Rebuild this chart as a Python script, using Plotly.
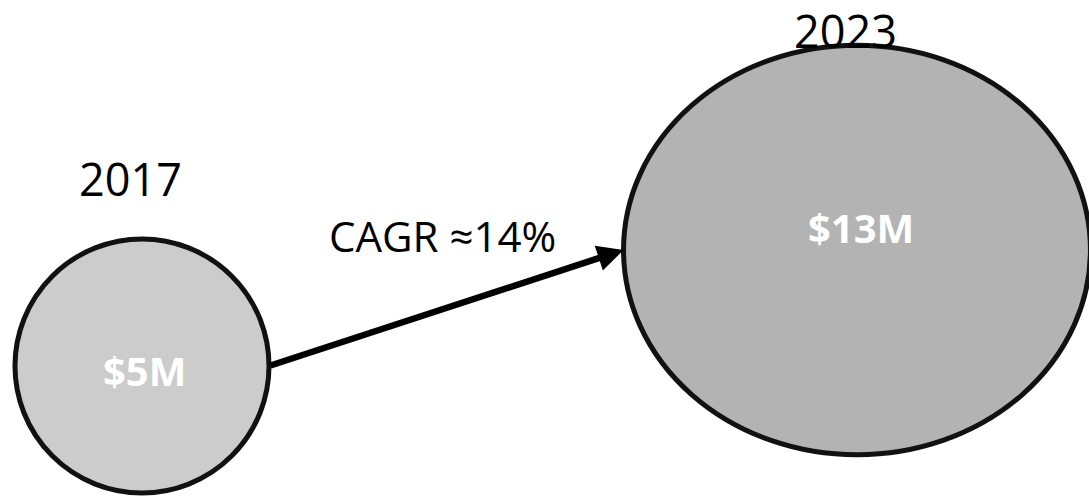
import math
import plotly.graph_objects as go

# Revenue data
years = ["2017", "2023"]
revenue_musd = [5, 13]
value_labels = ["$5M", "$13M"]
cagr_label = "CAGR ≈14%"

# Canvas / styling
W, H = 1089, 498
centers_x = [142, 857]
centers_y = [366, 250]
stretch_x = [1.0, 1.14]          # horizontal stretch of each bubble
fills = ["#cccccc", "#b3b3b3"]
SCALE = 56.8                      # pixels per sqrt($M)
year_pos = [(130, 178), (845, 30)]
value_pos = [(144, 370), (861, 227)]
cagr_pos = (442, 235)

TEXT_FONT = "Open Sans"

fig = go.Figure()
# invisible trace to establish axes
fig.add_trace(go.Scatter(x=[0, W], y=[0, H], mode="markers",
                         marker=dict(opacity=0), hoverinfo="skip", showlegend=False))

radii_y = [SCALE * math.sqrt(v) for v in revenue_musd]
radii_x = [ry * s for ry, s in zip(radii_y, stretch_x)]

shapes = []
annotations = []
for i in range(len(years)):
    cx, cy, rx, ry = centers_x[i], centers_y[i], radii_x[i], radii_y[i]
    shapes.append(dict(type="circle", xref="x", yref="y",
                       x0=cx - rx, x1=cx + rx, y0=cy - ry, y1=cy + ry,
                       fillcolor=fills[i], line=dict(color="#111111", width=5),
                       layer="below"))
    annotations.append(dict(x=value_pos[i][0], y=value_pos[i][1], xref="x", yref="y",
                            text=f"<b>{value_labels[i]}</b>", showarrow=False,
                            font=dict(family=TEXT_FONT, size=40, color="white")))
    annotations.append(dict(x=year_pos[i][0], y=year_pos[i][1], xref="x", yref="y",
                            text=years[i], showarrow=False,
                            font=dict(family=TEXT_FONT, size=45, color="black")))

# growth arrow from the right edge of the first bubble to the left edge of the second
annotations.append(dict(
    x=centers_x[1] - radii_x[1], y=centers_y[1],
    ax=centers_x[0] + radii_x[0], ay=centers_y[0],
    xref="x", yref="y", axref="x", ayref="y",
    showarrow=True, arrowhead=2, arrowsize=0.8, arrowwidth=6.5, arrowcolor="black",
    text=""))
annotations.append(dict(x=cagr_pos[0], y=cagr_pos[1], xref="x", yref="y",
                        text=cagr_label, showarrow=False,
                        font=dict(family=TEXT_FONT, size=42, color="black")))

fig.update_layout(
    width=W, height=H,
    margin=dict(l=0, r=0, t=0, b=0),
    paper_bgcolor="white", plot_bgcolor="white",
    xaxis=dict(range=[0, W], visible=False, fixedrange=True),
    yaxis=dict(range=[H, 0], visible=False, fixedrange=True),
    shapes=shapes, annotations=annotations,
    showlegend=False,
)

fig.write_html("out.html")
